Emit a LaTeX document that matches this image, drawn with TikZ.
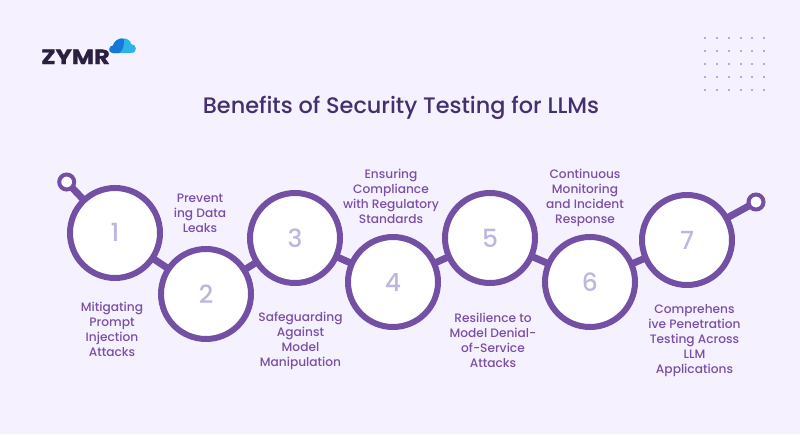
\documentclass[tikz,border=0pt]{standalone}
\usepackage{fontspec}
\setmainfont{Poppins}
\newfontfamily\pmed{Poppins Medium}
\newfontfamily\pbold{Poppins}[UprightFont=*-Bold,FakeStretch=1.18,FakeBold=1.5]
\definecolor{bgc}{HTML}{F6F1FF}
\definecolor{ringc}{HTML}{7450A4}
\definecolor{numc}{HTML}{BDB7DF}
\definecolor{titlec}{HTML}{45306F}
\definecolor{labc}{HTML}{7A4FA5}
\definecolor{dotc}{HTML}{B5A5F5}
\definecolor{logoc}{HTML}{2A2140}
\definecolor{cloudl}{HTML}{2FB2EA}
\definecolor{cloudd}{HTML}{1577D6}
\tikzset{
  x=1pt,y=-1pt,
  ringnode/.style={circle,draw=ringc,fill=white,line width=6pt,minimum size=90pt,inner sep=0pt},
  numnode/.style={text=numc,inner sep=0pt,font=\pmed\fontsize{25}{25}\selectfont},
  endnode/.style={circle,draw=ringc,fill=white,line width=4pt,minimum size=15pt,inner sep=0pt},
  linkline/.style={draw=ringc,line width=7pt},
  lab/.style={align=center,text=labc,inner sep=0pt,font=\pmed\fontsize{12.2}{15}\selectfont},
}
\begin{document}
\begin{tikzpicture}
\useasboundingbox (0,0) rectangle (800,434);
\fill[bgc] (0,0) rectangle (800,434);
% dots
\foreach \x in {705,717,729,741,752,764}
 \foreach \y in {38,51,64,77,90}
  \fill[dotc] (\x-1,\y-1) rectangle (\x+1,\y+1);
% logo
\node[anchor=base west,inner sep=0pt,text=logoc,font=\pbold\fontsize{20.5}{20}\selectfont] (logo) at (41,64) {ZYMR};
\fill[cloudl] (113,53) .. controls (108,53) and (108,46) .. (113,45.5) .. controls (114,41) and (119,38) .. (123,38.5) .. controls (127,38) and (131,41) .. (131,44) .. controls (137,44) and (138,53) .. (131,53) -- cycle;
\fill[cloudd] (119,53) -- (113,53) .. controls (108,53) and (108,46) .. (113,45.5) .. controls (114,41) and (119,38) .. (123,38.5) -- (124,39) .. controls (124,44) and (124,50) .. (119,53) -- cycle;
% title
\node[text=titlec,inner sep=0pt,font=\pmed\fontsize{22.4}{24}\selectfont] (title) at (401,108) {Benefits of Security Testing for LLMs};
% nodes
\coordinate (s) at (66.7,182);
\coordinate (e) at (756,202);
\coordinate (c1) at (115,233);
\coordinate (c2) at (206,294);
\coordinate (c3) at (295,238);
\coordinate (c4) at (393,282);
\coordinate (c5) at (490,238);
\coordinate (c6) at (590,282);
\coordinate (c7) at (687,240);
\draw[linkline] (s) -- (c1);
\draw[linkline] (c1) -- (c2);
\draw[linkline] (c2) -- (c3);
\draw[linkline] (c3) -- (c4);
\draw[linkline] (c4) -- (c5);
\draw[linkline] (c5) -- (c6);
\draw[linkline] (c6) -- (c7);
\draw[linkline] (c7) -- (e);
\node[ringnode] (n1) at (c1) {};
\node[ringnode] (n2) at (c2) {};
\node[ringnode] (n3) at (c3) {};
\node[ringnode] (n4) at (c4) {};
\node[ringnode] (n5) at (c5) {};
\node[ringnode] (n6) at (c6) {};
\node[ringnode] (n7) at (c7) {};
\node[endnode] (sn) at (s) {};
\node[endnode] (en) at (e) {};
\node[numnode] (t1) at ([yshift=1pt]n1) {1};
\node[numnode] (t2) at (n2) {2};
\node[numnode] (t3) at (n3) {3};
\node[numnode] (t4) at (n4) {4};
\node[numnode] (t5) at (n5) {5};
\node[numnode] (t6) at (n6) {6};
\node[numnode] (t7) at (n7) {7};
% labels
\node[lab] (l1) at (112,329) {Mitigating\\Prompt\\Injection\\Attacks};
\node[lab] (l2) at (200,213) {Prevent\\ing Data\\Leaks};
\node[lab] (l3) at (300.5,341) {Safeguarding\\Against\\Model\\Manipulation};
\node[lab] (l4) at (391,196) {Ensuring\\Compliance\\with Regulatory\\Standards};
\node[lab] (l5) at (493,340) {Resilience to\\Model Denial-\\of-Service\\Attacks};
\node[lab] (l6) at (585,198) {Continuous\\Monitoring\\and Incident\\Response};
\node[lab] (l7) at (694.5,341) {Comprehens\\ive Penetration\\Testing Across\\LLM\\Applications};
\end{tikzpicture}
\end{document}
